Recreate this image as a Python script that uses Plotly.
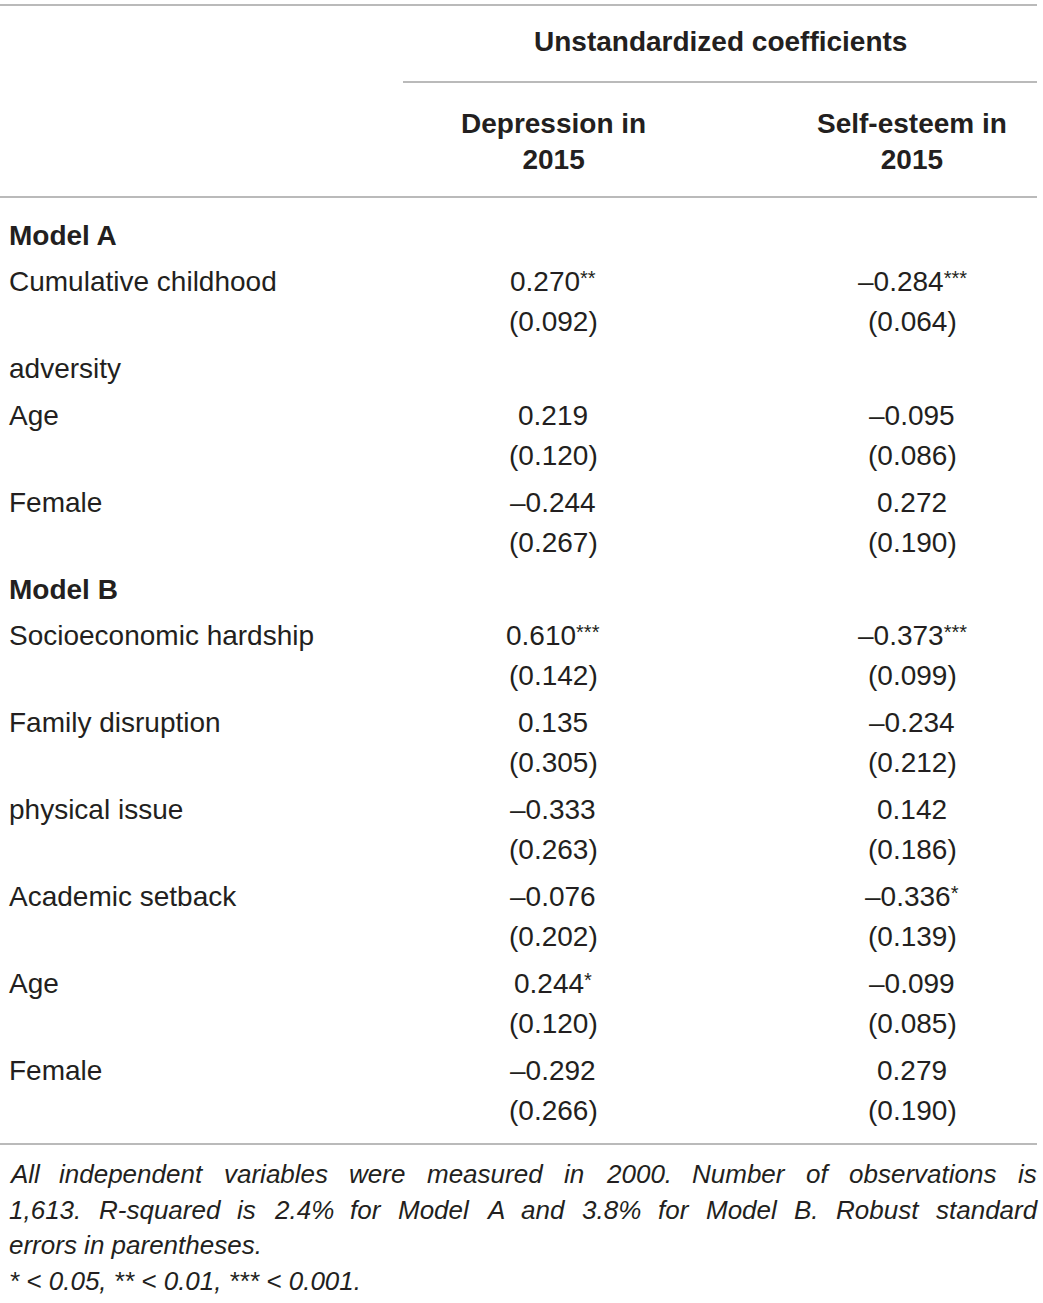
import plotly.graph_objects as go

# Datos de la tabla
header_top = "Unstandardized coefficients"
col_headers = ["Depression in<br>2015", "Self-esteem in<br>2015"]
models = ["A", "B"]

row_model = ["A", "A", "A", "A", "B", "B", "B", "B", "B", "B"]
row_labels = ["Cumulative childhood", "adversity", "Age", "Female",
              "Socioeconomic hardship", "Family disruption", "physical issue",
              "Academic setback", "Age", "Female"]

dep_coef = [0.270, None, 0.219, -0.244, 0.610, 0.135, -0.333, -0.076, 0.244, -0.292]
dep_stars = ["**", "", "", "", "***", "", "", "", "*", ""]
dep_se = [0.092, None, 0.120, 0.267, 0.142, 0.305, 0.263, 0.202, 0.120, 0.266]

se_coef = [-0.284, None, -0.095, 0.272, -0.373, -0.234, 0.142, -0.336, -0.099, 0.279]
se_stars = ["***", "", "", "", "***", "", "", "*", "", ""]
se_se = [0.064, None, 0.086, 0.190, 0.099, 0.212, 0.186, 0.139, 0.085, 0.190]

footnote = ["All independent variables were measured in 2000. Number of observations is",
            "1,613. R-squared is 2.4% for Model A and 3.8% for Model B. Robust standard",
            "errors in parentheses.",
            "* < 0.05, ** < 0.01, *** < 0.001."]
footnote_justified = [True, True, False, False]

# Estilo
FONT = "Liberation Sans, Arial, sans-serif"
TXT = "#231f20"
LINE = "#a3a3a3"
W, H = 1043, 1303
X_LABEL = 7
X_RIGHT = 1035
X_COLS = [553, 912]
X_SPAN = 720
STEP_IN = 40     # coeficiente -> error estandar
STEP_OUT = 47    # entre filas
FOOT_SIZE = 26

# anchos aproximados de Arial (por 1000 em) para justificar la nota
ARIAL_W = {" ": 278, "%": 889, ",": 278, "-": 333, ".": 278, "*": 389, "<": 584}
ARIAL_W.update({d: 556 for d in "0123456789"})
ARIAL_W.update(dict(zip("ABCDEFGHIJKLMNOPQRSTUVWXYZ",
                        [667, 667, 722, 722, 667, 611, 778, 722, 278, 500, 667, 556, 833,
                         722, 778, 667, 778, 722, 667, 611, 722, 667, 944, 667, 667, 611])))
ARIAL_W.update(dict(zip("abcdefghijklmnopqrstuvwxyz",
                        [556, 556, 500, 556, 556, 278, 556, 556, 222, 222, 500, 222, 833,
                         556, 556, 556, 556, 333, 500, 278, 556, 500, 722, 500, 500, 500])))


def text_width(s, size):
    return sum(ARIAL_W.get(c, 556) for c in s) * size / 1000


def fmt(v):
    return f"{v:.3f}".replace("-", "\u2013")


def stars(s):
    # asteriscos pequenos y elevados como en la tabla original
    return f"<span style='font-size:20px;baseline-shift:30%'>{s}</span>" if s else ""


fig = go.Figure()
ann = []


def add_text(x, y, text, anchor="left", size=28, bold=False, italic=False):
    if bold:
        text = f"<b>{text}</b>"
    if italic:
        text = f"<i>{text}</i>"
    ann.append(dict(x=x, y=y, xref="x", yref="y", text=text, showarrow=False,
                    xanchor=anchor, yanchor="middle", align="center",
                    font=dict(family=FONT, size=size, color=TXT)))


# Encabezados
add_text(X_SPAN, 41, header_top, anchor="center", bold=True)
for x, h in zip(X_COLS, col_headers):
    add_text(x, 141, h, anchor="center", bold=True)

# Cuerpo
y = 235
for m in models:
    add_text(X_LABEL, y, f"Model {m}", bold=True)
    y += STEP_OUT - 1
    for i in range(len(row_labels)):
        if row_model[i] != m:
            continue
        add_text(X_LABEL, y, row_labels[i])
        if dep_coef[i] is not None:
            add_text(X_COLS[0], y, fmt(dep_coef[i]) + stars(dep_stars[i]), anchor="center")
            add_text(X_COLS[1], y, fmt(se_coef[i]) + stars(se_stars[i]), anchor="center")
            add_text(X_COLS[0], y + STEP_IN, f"({fmt(dep_se[i])})", anchor="center")
            add_text(X_COLS[1], y + STEP_IN, f"({fmt(se_se[i])})", anchor="center")
            y += STEP_IN + STEP_OUT
        else:
            y += STEP_OUT

# Notas al pie (las dos primeras lineas justificadas)
for k, line in enumerate(footnote):
    yy = 1174 + 35.5 * k
    if footnote_justified[k]:
        words = line.split(" ")
        widths = [text_width(w, FOOT_SIZE) for w in words]
        gap = (X_RIGHT - X_LABEL - sum(widths)) / (len(words) - 1)
        x = X_LABEL
        for w, ww in zip(words, widths):
            add_text(x, yy, w, size=FOOT_SIZE, italic=True)
            x += ww + gap
    else:
        add_text(X_LABEL, yy, line, size=FOOT_SIZE, italic=True)

# Lineas horizontales
rules = [(0, 1037, 5), (403, 1037, 82), (0, 1037, 197), (0, 1037, 1144)]
for x0, x1, yy in rules:
    fig.add_shape(type="line", xref="x", yref="y", x0=x0, x1=x1, y0=yy, y1=yy,
                  line=dict(color=LINE, width=1.5))

fig.update_layout(
    width=W, height=H,
    margin=dict(l=0, r=0, t=0, b=0),
    paper_bgcolor="white", plot_bgcolor="white",
    annotations=ann,
    showlegend=False,
    xaxis=dict(range=[0, W], visible=False, fixedrange=True),
    yaxis=dict(range=[H, 0], visible=False, fixedrange=True),
)

fig.write_html("out.html", config={"displayModeBar": False},
               post_script="document.body.style.margin='0';document.body.style.overflow='hidden';")
